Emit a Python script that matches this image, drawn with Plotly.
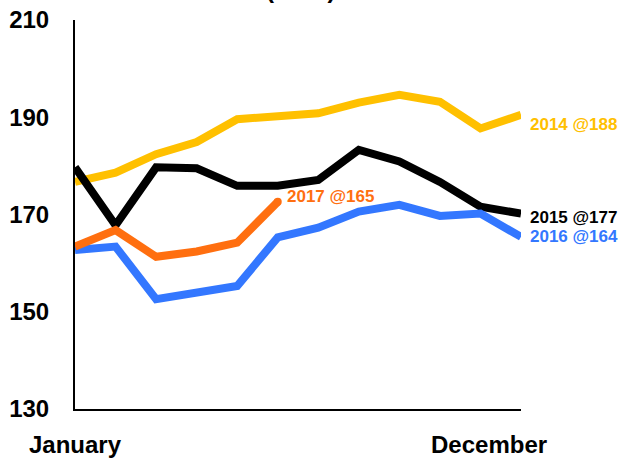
import plotly.graph_objects as go

months = ["Jan", "Feb", "Mar", "Apr", "May", "Jun", "Jul", "Aug", "Sep", "Oct", "Nov", "Dec"]
y2014 = [176.7, 178.6, 182.4, 184.9, 189.6, 190.3, 190.8, 193.0, 194.6, 193.2, 187.7, 190.5]
y2015 = [179.7, 167.8, 179.7, 179.5, 175.9, 175.9, 177.1, 183.3, 180.9, 176.7, 171.6, 170.2]
y2016 = [162.7, 163.4, 152.6, 154.0, 155.3, 165.3, 167.3, 170.6, 172.0, 169.7, 170.2, 165.4]
y2017 = [163.4, 166.8, 161.3, 162.4, 164.2, 172.6]
labels = {"2014": "2014 @188", "2015": "2015 @177", "2016": "2016 @164", "2017": "2017 @165"}
colors = {"2014": "#FFC000", "2015": "#000000", "2016": "#3377FF", "2017": "#FF6F10"}
yticks = [130, 150, 170, 190, 210]
title_text = "(000s)"

series = [("2014", y2014), ("2015", y2015), ("2016", y2016), ("2017", y2017)]
shifts = {"2014": (7, -10), "2015": (7, -4), "2016": (7, 0), "2017": (7, 5)}

fig = go.Figure()
for name, ys in series:
    xs = list(range(len(ys)))
    fig.add_trace(go.Scatter(x=xs, y=ys, mode="lines", name=name,
                             line=dict(color=colors[name], width=8),
                             showlegend=False, hoverinfo="skip"))

fig.add_trace(go.Scatter(x=[len(y2017) - 1], y=[y2017[-1]], mode="markers",
                         marker=dict(color=colors["2017"], size=8), showlegend=False,
                         hoverinfo="skip", cliponaxis=False))

font_family = "Liberation Sans, Arial, sans-serif"
for name, ys in series:
    xs, ysh = shifts[name]
    fig.add_annotation(x=len(ys) - 1, y=ys[-1], xref="x", yref="y", text="<b>%s</b>" % labels[name],
                       showarrow=False, xanchor="left", yanchor="middle", xshift=xs, yshift=ysh,
                       font=dict(family=font_family, size=17, color=colors[name]))

fig.add_annotation(x=0, y=0, xref="x", yref="paper", text="<b>January</b>", showarrow=False,
                   xanchor="center", yanchor="top", yshift=-20,
                   font=dict(family=font_family, size=24, color="#000"))
fig.add_annotation(x=11, y=0, xref="x", yref="paper", text="<b>December</b>", showarrow=False,
                   xanchor="right", yanchor="top", yshift=-20, xshift=28,
                   font=dict(family=font_family, size=24, color="#000"))
fig.add_annotation(x=5.55, y=1, xref="x", yref="paper", text="<b>%s</b>" % title_text, showarrow=False,
                   xanchor="center", yanchor="middle", yshift=31,
                   font=dict(family=font_family, size=24, color="#000"))

fig.update_layout(
    width=621, height=459,
    margin=dict(l=75, r=100, t=20, b=50, autoexpand=False),
    paper_bgcolor="white", plot_bgcolor="white",
    xaxis=dict(range=[0, 11], showgrid=False, zeroline=False, showticklabels=False, ticks="",
               showline=True, linecolor="black", linewidth=2, automargin=False),
    yaxis=dict(range=[130, 210], tickvals=yticks, ticktext=["<b>%d</b>" % v for v in yticks],
               showgrid=False, zeroline=False, showline=True, linecolor="black", linewidth=2,
               ticks="", ticklabelstandoff=19, automargin=False,
               tickfont=dict(family=font_family, size=24, color="#000")),
)

fig.write_html("out.html")
